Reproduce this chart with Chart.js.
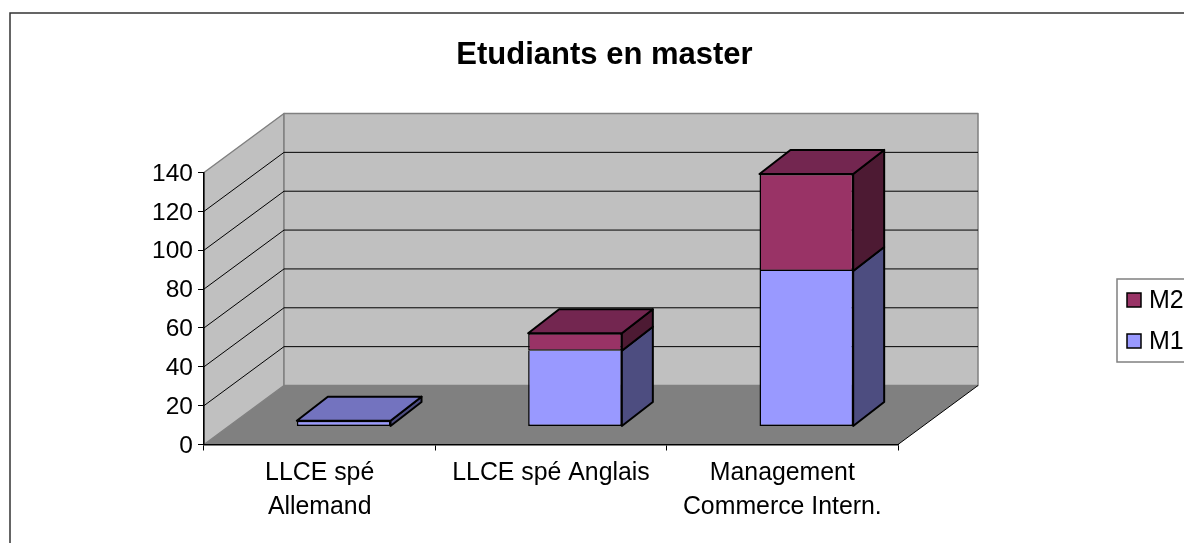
<!DOCTYPE html>
<html>
<head>
<meta charset="utf-8">
<title>Etudiants en master</title>
<script src="https://cdn.jsdelivr.net/npm/chart.js@4"></script>
<style>
html, body { margin: 0; padding: 0; background: #fff; overflow: hidden; }
#wrap { width: 1184px; height: 543px; overflow: hidden; }
canvas { display: block; }
</style>
</head>
<body>
<div id="wrap"><canvas id="masterChart" width="1209" height="543"></canvas></div>
<script>
const categories = [['LLCE spé', 'Allemand'], 'LLCE spé Anglais', ['Management', 'Commerce Intern.']];
const m1Values = [3, 39, 80];
const m2Values = [0, 9, 50];

const FONT = '"Liberation Sans", Arial, sans-serif';

// fake 3D: how far the back wall sits from the axes, and the bars on the floor
const WALL_DX = 80, WALL_DY = -59;
const BAR_SHIFT_X = 24, BAR_SHIFT_Y = -18;
const BAR_DX = 31, BAR_DY = -24;

function poly(ctx, pts, fill, stroke, lw) {
    ctx.beginPath();
    pts.forEach((p, i) => i ? ctx.lineTo(p[0], p[1]) : ctx.moveTo(p[0], p[1]));
    ctx.closePath();
    if (fill) { ctx.fillStyle = fill; ctx.fill(); }
    if (stroke) { ctx.strokeStyle = stroke; ctx.lineWidth = lw; ctx.lineJoin = 'round'; ctx.stroke(); }
}

const depthPlugin = {
    id: 'depth',
    afterLayout(chart) {
        // title is centred on the whole canvas, not on the padded box
        chart.titleBlock.left = 0;
        chart.titleBlock.right = chart.width;
    },
    beforeDraw(chart) {
        const ctx = chart.ctx, a = chart.chartArea, y = chart.scales.y;
        const dx = WALL_DX, dy = WALL_DY;
        ctx.save();

        // outer frame, runs off the picture on the right and bottom
        ctx.strokeStyle = '#333';
        ctx.lineWidth = 1.5;
        ctx.strokeRect(10, 13, 1189, 600);

        // side wall, back wall, floor
        poly(ctx, [[a.left, a.top], [a.left + dx, a.top + dy], [a.left + dx, a.bottom + dy], [a.left, a.bottom]], '#c0c0c0', '#808080', 1.5);
        poly(ctx, [[a.left + dx, a.top + dy], [a.right + dx, a.top + dy], [a.right + dx, a.bottom + dy], [a.left + dx, a.bottom + dy]], '#c0c0c0', '#808080', 1.5);
        poly(ctx, [[a.left, a.bottom], [a.left + dx, a.bottom + dy], [a.right + dx, a.bottom + dy], [a.right, a.bottom]], '#808080');

        // gridlines follow the wall
        ctx.strokeStyle = '#000';
        ctx.lineWidth = 1;
        y.ticks.forEach(t => {
            if (t.value === 0 || t.value === y.max) return;
            const py = y.getPixelForValue(t.value);
            ctx.beginPath();
            ctx.moveTo(a.left, py);
            ctx.lineTo(a.left + dx, py + dy);
            ctx.lineTo(a.right + dx, py + dy);
            ctx.stroke();
        });

        // front right edge of the floor
        ctx.beginPath();
        ctx.moveTo(a.right, a.bottom);
        ctx.lineTo(a.right + dx, a.bottom + dy);
        ctx.stroke();
        ctx.restore();
    },
    beforeDatasetsDraw(chart) {
        const ctx = chart.ctx;
        const sets = chart.data.datasets;
        ctx.save();
        ctx.translate(BAR_SHIFT_X, BAR_SHIFT_Y);
        sets.forEach((ds, i) => {
            chart.getDatasetMeta(i).data.forEach((bar, j) => {
                if (!ds.data[j]) return;
                const l = bar.x - bar.width / 2, r = bar.x + bar.width / 2;
                poly(ctx, [[r, bar.y], [r + BAR_DX, bar.y + BAR_DY], [r + BAR_DX, bar.base + BAR_DY], [r, bar.base]], ds.sideColor, '#000', 2);
                // the lid only shows on the top segment of a stack
                if (sets[i + 1] && sets[i + 1].data[j]) return;
                poly(ctx, [[l, bar.y], [l + BAR_DX, bar.y + BAR_DY], [r + BAR_DX, bar.y + BAR_DY], [r, bar.y]], ds.topColor, '#000', 2);
            });
        });
        ctx.restore();
        // shift the front faces too, undone in afterDatasetsDraw
        ctx.save();
        ctx.translate(BAR_SHIFT_X, BAR_SHIFT_Y);
    },
    afterDatasetsDraw(chart) {
        chart.ctx.restore();
    },
    afterDraw(chart) {
        const ctx = chart.ctx;
        ctx.save();
        ctx.strokeStyle = '#808080';
        ctx.lineWidth = 1.5;
        ctx.fillStyle = '#fff';
        ctx.fillRect(1117, 279, 82, 83);
        ctx.strokeRect(1117, 279, 82, 83);
        ctx.font = '25px ' + FONT;
        ctx.textBaseline = 'middle';
        [chart.data.datasets[1], chart.data.datasets[0]].forEach((ds, i) => {
            const cy = 300 + i * 41;
            ctx.fillStyle = ds.backgroundColor;
            ctx.fillRect(1127, cy - 7, 14, 14);
            ctx.strokeStyle = '#000';
            ctx.strokeRect(1127, cy - 7, 14, 14);
            ctx.fillStyle = '#000';
            ctx.fillText(ds.label, 1149, cy + 1);
        });
        ctx.restore();
    }
};

new Chart(document.getElementById('masterChart').getContext('2d'), {
    type: 'bar',
    data: {
        labels: categories,
        datasets: [{
            label: 'M1',
            data: m1Values,
            backgroundColor: '#9999ff',
            sideColor: '#4d4d80',
            topColor: '#7373bf',
            borderColor: '#000',
            borderWidth: 1.5,
            // M2's lower edge is the divider, no need for two lines
            borderSkipped: c => m2Values[c.dataIndex] ? 'top' : false,
            clip: false
        }, {
            label: 'M2',
            data: m2Values,
            backgroundColor: '#993366',
            sideColor: '#4d1a33',
            topColor: '#732650',
            borderColor: '#000',
            borderWidth: c => c.raw ? 1.5 : 0,
            borderSkipped: false,
            clip: false
        }]
    },
    options: {
        responsive: false,
        animation: false,
        barPercentage: 1,
        categoryPercentage: 0.405,
        layout: { padding: { left: 0, right: 311, top: 0, bottom: 0 } },
        scales: {
            x: {
                stacked: true,
                grid: { drawOnChartArea: false, tickLength: 6, tickColor: '#000' },
                border: { color: '#000', width: 1.5 },
                ticks: { color: '#000', maxRotation: 0, autoSkip: false, padding: 6, font: { family: FONT, size: 24.85, lineHeight: 1.35 } },
                afterFit(s) { s.height = 98.5; }
            },
            y: {
                stacked: true,
                min: 0,
                max: 140,
                grid: { drawOnChartArea: false, tickLength: 6, tickColor: '#000' },
                border: { color: '#000', width: 1.5 },
                ticks: { color: '#000', stepSize: 20, padding: 5, labelOffset: 1.5, font: { family: FONT, size: 24.5 } },
                afterFit(s) { s.width = 204; }
            }
        },
        plugins: {
            legend: { display: false },
            tooltip: { enabled: false },
            title: {
                display: true,
                text: 'Etudiants en master',
                color: '#000',
                font: { family: FONT, size: 31, weight: 'bold', lineHeight: 1.2 },
                padding: { top: 37, bottom: 98.3 }
            }
        }
    },
    plugins: [depthPlugin]
});
</script>
</body>
</html>
